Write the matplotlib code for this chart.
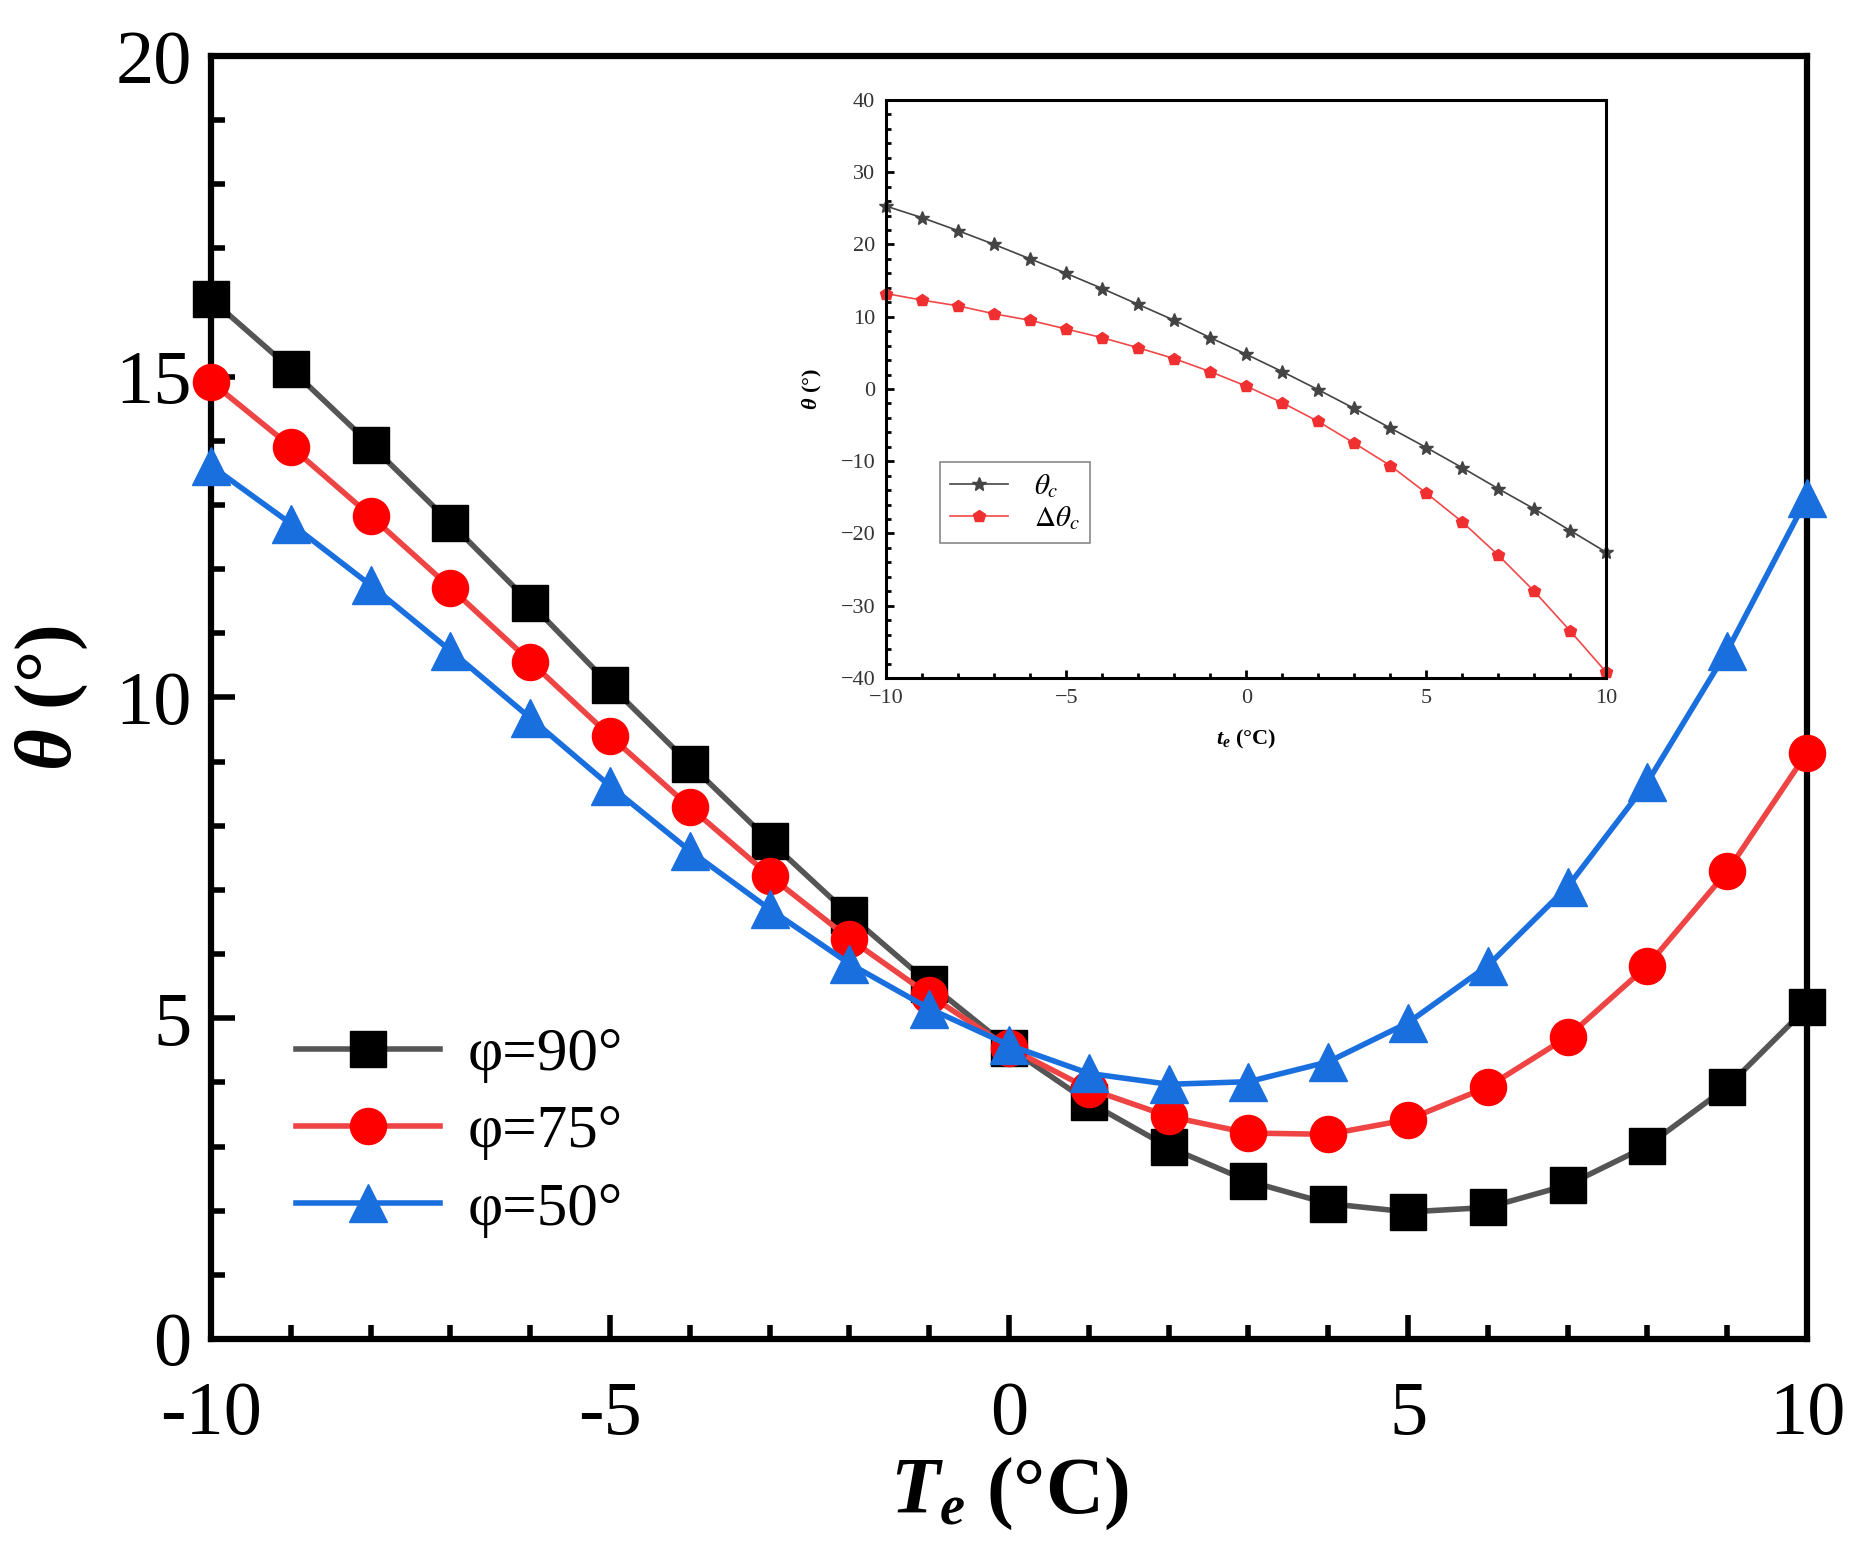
import matplotlib
matplotlib.use("Agg")
import matplotlib.pyplot as plt
from matplotlib.ticker import MultipleLocator, FuncFormatter
from matplotlib.font_manager import FontProperties

plt.rcParams['font.family'] = ['Liberation Serif', 'DejaVu Serif']
plt.rcParams['mathtext.fontset'] = 'custom'
plt.rcParams['mathtext.it'] = 'Liberation Serif:italic:bold'
plt.rcParams['mathtext.rm'] = 'Liberation Serif:bold'
plt.rcParams['mathtext.bf'] = 'Liberation Serif:bold'
plt.rcParams['axes.unicode_minus'] = False

# main plot data
te = [-10, -9, -8, -7, -6, -5, -4, -3, -2, -1, 0, 1, 2, 3, 4, 5, 6, 7, 8, 9, 10]
phi90 = [16.21, 15.12, 13.94, 12.72, 11.47, 10.19, 8.96, 7.76, 6.61, 5.54, 4.54,
         3.69, 2.99, 2.46, 2.11, 1.98, 2.05, 2.40, 3.01, 3.93, 5.17]
phi75 = [14.92, 13.91, 12.83, 11.71, 10.56, 9.40, 8.29, 7.22, 6.24, 5.36, 4.54,
         3.90, 3.47, 3.21, 3.19, 3.42, 3.93, 4.71, 5.82, 7.29, 9.14]
phi50 = [13.61, 12.71, 11.75, 10.73, 9.68, 8.62, 7.61, 6.70, 5.85, 5.15, 4.58,
         4.14, 3.97, 4.01, 4.32, 4.93, 5.82, 7.05, 8.68, 10.73, 13.11]

# inset data
theta_c = [25.3, 23.7, 21.9, 20.0, 18.0, 16.0, 13.9, 11.7, 9.5, 7.1, 4.8,
           2.4, -0.1, -2.7, -5.4, -8.1, -10.9, -13.8, -16.6, -19.6, -22.6]
dtheta_c = [13.2, 12.3, 11.5, 10.4, 9.5, 8.3, 7.1, 5.7, 4.2, 2.4, 0.4,
            -1.9, -4.5, -7.5, -10.6, -14.4, -18.4, -23.0, -28.0, -33.5, -39.2]

fig = plt.figure(figsize=(18.58, 15.6), dpi=100)
ax = fig.add_axes([0.1136, 0.1417, 0.859, 0.8224])

ax.plot(te, phi90, color='#555555', lw=4, marker='s', ms=26, mfc='black', mec='black',
        label='φ=90°', clip_on=False, zorder=3)
ax.plot(te, phi75, color='#EE4444', lw=4, marker='o', ms=26, mfc='#FF0000', mec='#FF0000',
        label='φ=75°', clip_on=False, zorder=3)
ax.plot(te, phi50, color='#1A6FDF', lw=4, marker='^', ms=28, mfc='#1A6FDF', mec='#1A6FDF',
        label='φ=50°', clip_on=False, zorder=3)

ax.set_xlim(-10, 10)
ax.set_ylim(0, 20)
ax.xaxis.set_major_locator(MultipleLocator(5))
ax.xaxis.set_minor_locator(MultipleLocator(1))
ax.yaxis.set_major_locator(MultipleLocator(5))
ax.yaxis.set_minor_locator(MultipleLocator(1))
ax.tick_params(which='major', direction='in', length=17, width=4, labelsize=55)
ax.tick_params(axis='x', which='major', pad=30)
ax.tick_params(axis='y', which='major', pad=14)
ax.tick_params(which='minor', direction='in', length=10, width=4)
for sp in ax.spines.values():
    sp.set_linewidth(4.5)

ax.set_xlabel(r'$T_e$ (°C)', fontsize=58, fontweight='bold', labelpad=4)
ax.set_ylabel(r'$\theta$ (°)', fontsize=58, fontweight='bold', labelpad=18)

leg = ax.legend(loc='lower left', bbox_to_anchor=(0.038, 0.06), frameon=False,
                fontsize=44, handlelength=2.35, handletextpad=0.45, labelspacing=0.35,
                borderaxespad=0)

# inset
ins = fig.add_axes([0.477, 0.5654, 0.3875, 0.3705])
ins.plot(te, theta_c, color='#444444', lw=1.2, marker='*', ms=10, mfc='#444444', mec='#444444',
         label=r'$\theta_c$', clip_on=False)
ins.plot(te, dtheta_c, color='#F04848', lw=1.2, marker='p', ms=9, mfc='#F03030', mec='#F03030',
         label=r'$\Delta\theta_c$', clip_on=False)
ins.set_xlim(-10, 10)
ins.set_ylim(-40, 40)
ins.xaxis.set_major_locator(MultipleLocator(5))
ins.xaxis.set_minor_locator(MultipleLocator(1))
ins.yaxis.set_major_locator(MultipleLocator(10))
ins.yaxis.set_minor_locator(MultipleLocator(2))
fmt = FuncFormatter(lambda v, p: ('%d' % v).replace('-', '\u2212'))
ins.xaxis.set_major_formatter(fmt)
ins.yaxis.set_major_formatter(fmt)
ins.tick_params(which='major', direction='in', length=6, width=2, labelsize=16, pad=8,
                labelcolor='#333333')
ins.tick_params(which='minor', direction='in', length=3.5, width=2)
for sp in ins.spines.values():
    sp.set_linewidth(2.2)
ins.set_xlabel(r'$t_e$ (°C)', fontsize=16, fontweight='bold', labelpad=14)
ins.set_ylabel(r'$\theta$ (°)', fontsize=16, fontweight='bold', labelpad=12)

lp = FontProperties(family='Liberation Serif', size=21, math_fontfamily='stix')
ileg = ins.legend(loc='lower left', bbox_to_anchor=(0.074, 0.234), prop=lp,
                  fancybox=False, edgecolor='#888888', framealpha=1,
                  handlelength=2.0, handletextpad=0.9, borderaxespad=0,
                  labelspacing=0.15, borderpad=0.35)
ileg.get_frame().set_linewidth(1.2)

fig.savefig('out.png', dpi=100)
